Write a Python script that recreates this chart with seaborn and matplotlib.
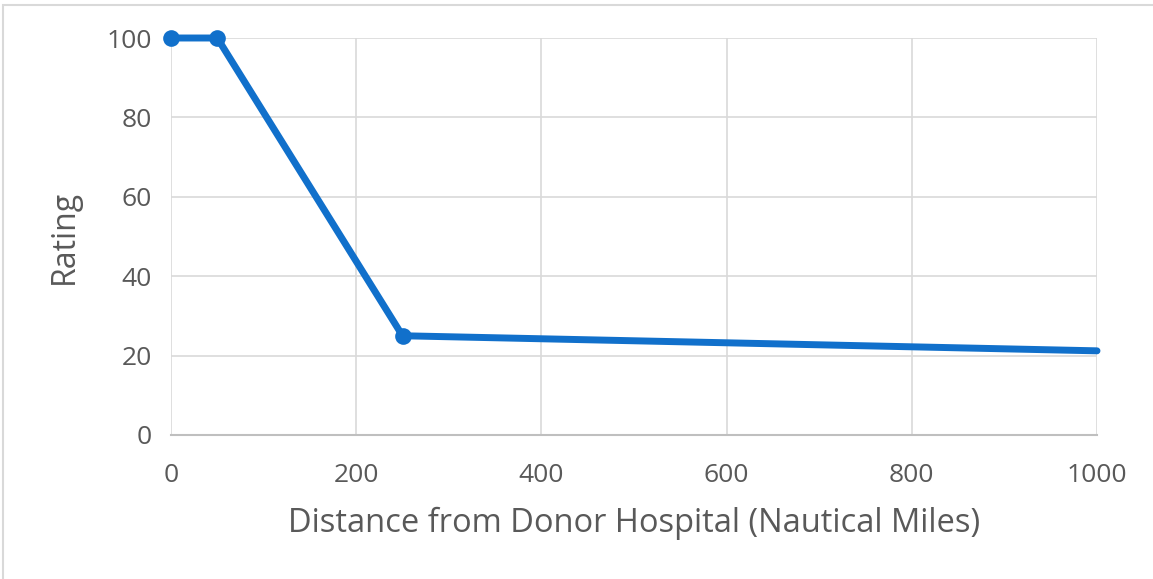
import matplotlib
matplotlib.use("Agg")
import matplotlib.pyplot as plt
import seaborn as sns
import pandas as pd
from matplotlib.patches import Rectangle

distance = [0, 50, 250, 1000]
rating = [100, 100, 25, 21.2]
x_ticks = [0, 200, 400, 600, 800, 1000]
y_ticks = [0, 20, 40, 60, 80, 100]

sns.set_theme(style="white")
plt.rcParams['font.family'] = ['Open Sans', 'DejaVu Sans']

df = pd.DataFrame({"Distance": distance, "Rating": rating})

fig = plt.figure(figsize=(11.53, 5.79), dpi=100)
ax = fig.add_axes([171/1153, 1 - 435/579, (1097-171)/1153, (435-38)/579])

sns.lineplot(data=df, x="Distance", y="Rating", ax=ax, color="#1170CB",
             linewidth=5, marker="o", markersize=12, markeredgewidth=0,
             markevery=[0, 1, 2], zorder=3, clip_on=False)

ax.set_xlim(0, 1000)
ax.set_ylim(0, 100)
ax.set_xticks(x_ticks)
ax.set_yticks(y_ticks)
ax.grid(True, color="#D9D9D9", linewidth=1.2)
ax.set_axisbelow(True)
for s in ["top", "right", "left"]:
    ax.spines[s].set_visible(False)
ax.spines["bottom"].set_color("#BFBFBF")
ax.spines["bottom"].set_linewidth(1.5)
ax.tick_params(axis="x", length=0, labelsize=19, colors="#595959", pad=20)
ax.tick_params(axis="y", length=0, labelsize=19, colors="#595959", pad=14)
ax.set_xlabel("Distance from Donor Hospital (Nautical Miles)", fontsize=23.5, color="#595959", labelpad=14)
ax.set_ylabel("Rating", fontsize=23, color="#595959", labelpad=18)

fig.patches.append(Rectangle((3/1153, -0.1), 1.2, 1.1 - 5/579, transform=fig.transFigure,
                             fill=False, edgecolor="#D9D9D9", linewidth=1.5))

fig.savefig("out.png", dpi=100)
